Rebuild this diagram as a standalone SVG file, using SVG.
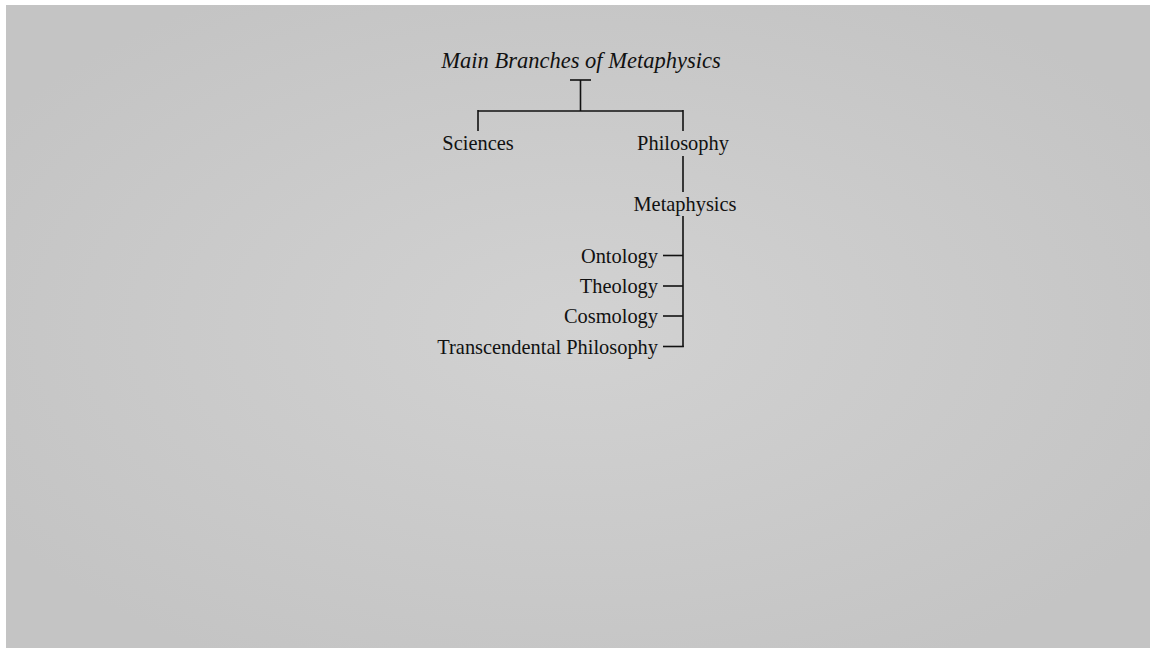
<svg xmlns="http://www.w3.org/2000/svg" width="1153" height="649" viewBox="0 0 1153 649">
<defs>
<radialGradient id="bg" cx="50%" cy="50%" r="60%">
<stop offset="0" stop-color="#d2d2d2"/>
<stop offset="1" stop-color="#c4c4c4"/>
</radialGradient>
<style>
text{font-family:"Liberation Serif","Times New Roman",serif;font-size:20.4px;fill:#111}
.t{font-style:italic;font-size:22.5px}
.c{text-anchor:middle}
.r{text-anchor:end}
#connectors line{stroke:#111;stroke-width:1.6;fill:none}
</style>
</defs>
<rect width="1153" height="649" fill="#ffffff"/>
<rect x="6" y="5" width="1144" height="643" fill="url(#bg)"/>
<g id="title"><text class="t c" x="581" y="68">Main Branches of Metaphysics</text></g>
<g id="connectors">
<line x1="570" y1="80" x2="591" y2="80"/>
<line x1="580.5" y1="80" x2="580.5" y2="111"/>
<line x1="478" y1="111" x2="683" y2="111"/>
<line x1="478" y1="110" x2="478" y2="131"/>
<line x1="683" y1="110" x2="683" y2="131"/>
<line x1="683" y1="156" x2="683" y2="192"/>
<line x1="683" y1="216" x2="683" y2="347"/>
<line x1="663" y1="255.5" x2="683" y2="255.5"/>
<line x1="663" y1="286" x2="683" y2="286"/>
<line x1="663" y1="316" x2="683" y2="316"/>
<line x1="663" y1="346.5" x2="683.8" y2="346.5"/>
</g>
<g id="sciences"><text class="c" x="478" y="150">Sciences</text></g>
<g id="philosophy"><text class="c" x="683" y="150">Philosophy</text></g>
<g id="metaphysics"><text class="c" x="685" y="211">Metaphysics</text></g>
<g id="ontology"><text class="r" x="658" y="263">Ontology</text></g>
<g id="theology"><text class="r" x="658" y="293">Theology</text></g>
<g id="cosmology"><text class="r" x="658" y="323">Cosmology</text></g>
<g id="transcendental"><text class="r" x="658" y="354">Transcendental Philosophy</text></g>
</svg>
